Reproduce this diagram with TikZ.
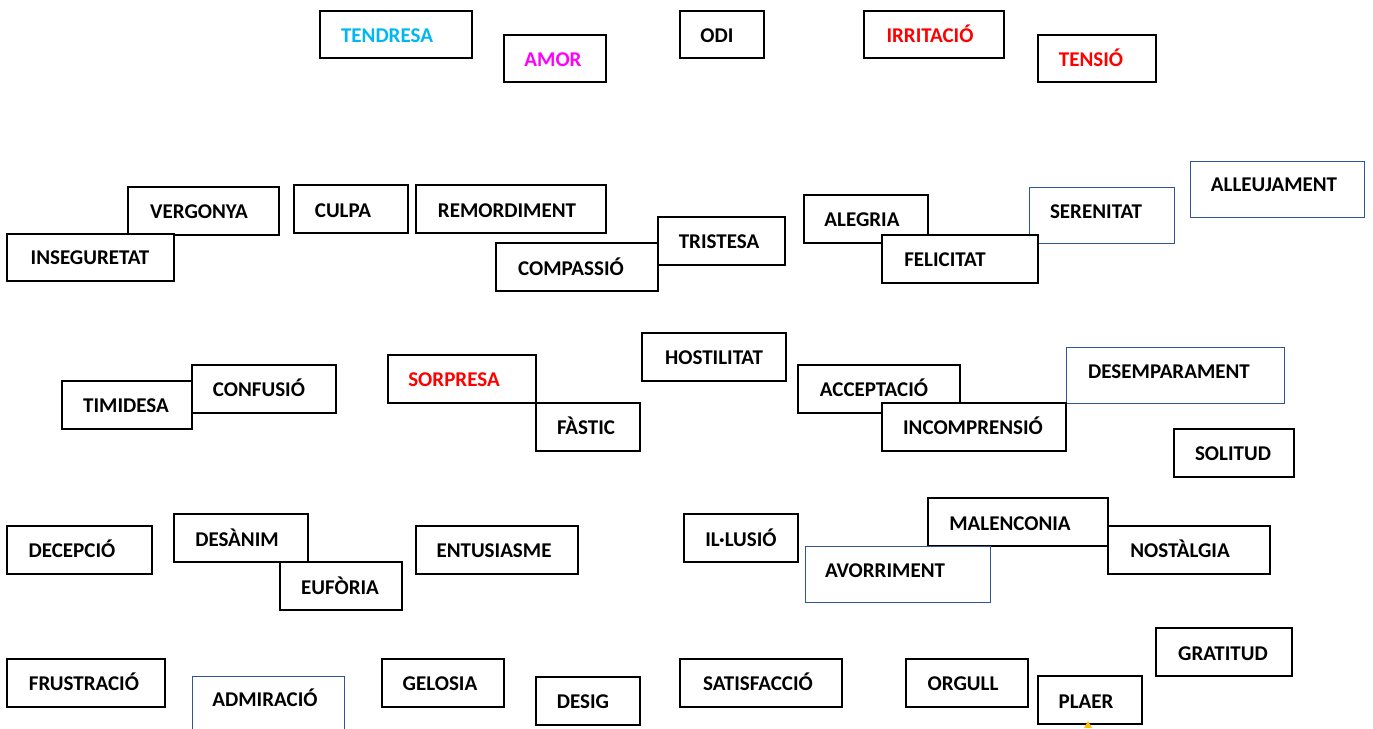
\documentclass[tikz,border=0pt]{standalone}
\usepackage{fontspec}
\setmainfont{Carlito}
\definecolor{cyanT}{HTML}{00B8F0}
\definecolor{magT}{HTML}{FF00FF}
\definecolor{redT}{HTML}{FF0000}
\definecolor{blueB}{HTML}{2F5597}
\definecolor{orangeM}{HTML}{FFC000}
\tikzset{
  bk/.style={draw=black, line width=1.5pt, fill=white, anchor=north west, inner sep=0pt, outer sep=0pt},
  bl/.style={draw=blueB, line width=0.8pt, fill=white, anchor=north west, inner sep=0pt, outer sep=0pt},
  lbl/.style={anchor=base, inner sep=0pt, font=\fontsize{21}{25}\selectfont\bfseries, text=black},
  sz/.style 2 args={minimum width=#1pt, minimum height=#2pt},
}
\begin{document}
\begin{tikzpicture}[x=1pt,y=-1pt]
\fill[white] (0,0) rectangle (1373,728);
\useasboundingbox (0,0) rectangle (1373,728);
% row 1
\node[bk, sz={152}{47}] (tendresa) at (320,11) {};
\node[lbl, text=cyanT] (tendresa-t) at (387,42) {TENDRESA};
\node[bk, sz={102}{47}] (amor) at (504,35) {};
\node[lbl, text=magT] (amor-t) at (553,66) {AMOR};
\node[bk, sz={84}{47}] (odi) at (680,11) {};
\node[lbl] (odi-t) at (717,42) {ODI};
\node[bk, sz={140}{47}] (irritacio) at (864,11) {};
\node[lbl, text=redT] (irritacio-t) at (930,42) {IRRITACIÓ};
\node[bk, sz={118}{47}] (tensio) at (1038,35) {};
\node[lbl, text=redT] (tensio-t) at (1091,66) {TENSIÓ};
% row 2
\node[bk, sz={151}{48}] (vergonya) at (128,187) {};
\node[lbl] (vergonya-t) at (199,218) {VERGONYA};
\node[bk, sz={167}{47}] (inseguretat) at (7,234) {};
\node[lbl] (inseguretat-t) at (90,264) {INSEGURETAT};
\node[bk, sz={114}{48}] (culpa) at (294,185) {};
\node[lbl] (culpa-t) at (343,217) {CULPA};
\node[bk, sz={190}{48}] (remordiment) at (416,185) {};
\node[lbl] (remordiment-t) at (507,217) {REMORDIMENT};
\node[bk, sz={162}{48}] (compassio) at (496,243) {};
\node[lbl] (compassio-t) at (571,275) {COMPASSIÓ};
\node[bk, sz={127}{48}] (tristesa) at (658,217) {};
\node[lbl] (tristesa-t) at (719,248) {TRISTESA};
\node[bk, sz={124}{48}] (alegria) at (804,195) {};
\node[lbl] (alegria-t) at (862,226) {ALEGRIA};
\node[bl, sz={145}{56}] (serenitat) at (1029,187) {};
\node[lbl] (serenitat-t) at (1096,218) {SERENITAT};
\node[bk, sz={156}{48}] (felicitat) at (882,235) {};
\node[lbl] (felicitat-t) at (945,266) {FELICITAT};
\node[bl, sz={174}{56}] (alleujament) at (1190,161) {};
\node[lbl] (alleujament-t) at (1274,191) {ALLEUJAMENT};
% row 3
\node[bk, sz={130}{48}] (timidesa) at (62,381) {};
\node[lbl] (timidesa-t) at (126,412) {TIMIDESA};
\node[bk, sz={144}{48}] (confusio) at (192,365) {};
\node[lbl] (confusio-t) at (259,396) {CONFUSIÓ};
\node[bk, sz={148}{48}] (sorpresa) at (388,355) {};
\node[lbl, text=redT] (sorpresa-t) at (454,386) {SORPRESA};
\node[bk, sz={104}{48}] (fastic) at (536,403) {};
\node[lbl] (fastic-t) at (586,434) {FÀSTIC};
\node[bk, sz={144}{48}] (hostilitat) at (642,333) {};
\node[lbl] (hostilitat-t) at (714,364) {HOSTILITAT};
\node[bk, sz={162}{48}] (acceptacio) at (798,365) {};
\node[lbl] (acceptacio-t) at (874,396) {ACCEPTACIÓ};
\node[bl, sz={218}{56}] (desemparament) at (1066,347) {};
\node[lbl] (desemparament-t) at (1169,378) {DESEMPARAMENT};
\node[bk, sz={184}{48}] (incomprensio) at (882,403) {};
\node[lbl] (incomprensio-t) at (973,434) {INCOMPRENSIÓ};
\node[bk, sz={120}{48}] (solitud) at (1174,429) {};
\node[lbl] (solitud-t) at (1233,460) {SOLITUD};
% row 4
\node[bk, sz={145}{48}] (decepcio) at (7,526) {};
\node[lbl] (decepcio-t) at (72,557) {DECEPCIÓ};
\node[bk, sz={134}{48}] (desanim) at (174,514) {};
\node[lbl] (desanim-t) at (237,546) {DESÀNIM};
\node[bk, sz={122}{48}] (euforia) at (280,562) {};
\node[lbl] (euforia-t) at (340,594) {EUFÒRIA};
\node[bk, sz={162}{48}] (entusiasme) at (416,526) {};
\node[lbl] (entusiasme-t) at (494,557) {ENTUSIASME};
\node[bk, sz={114}{48}] (illusio) at (684,514) {};
\node[lbl] (illusio-t) at (741,546) {IL·LUSIÓ};
\node[bk, sz={180}{48}] (malenconia) at (928,498) {};
\node[lbl] (malenconia-t) at (1010,530) {MALENCONIA};
\node[bk, sz={162}{48}] (nostalgia) at (1108,526) {};
\node[lbl] (nostalgia-t) at (1180,557) {NOSTÀLGIA};
\node[bl, sz={185}{56}] (avorriment) at (805,546) {};
\node[lbl] (avorriment-t) at (885,577) {AVORRIMENT};
% row 5
\node[bk, sz={158}{48}] (frustracio) at (7,659) {};
\node[lbl] (frustracio-t) at (84,690) {FRUSTRACIÓ};
\node[bl, sz={152}{60}] (admiracio) at (192,676) {};
\node[lbl] (admiracio-t) at (265,706) {ADMIRACIÓ};
\node[bk, sz={122}{48}] (gelosia) at (382,659) {};
\node[lbl] (gelosia-t) at (440,690) {GELOSIA};
\node[bk, sz={104}{48}] (desig) at (536,677) {};
\node[lbl] (desig-t) at (583,708) {DESIG};
\node[bk, sz={162}{48}] (satisfaccio) at (680,659) {};
\node[lbl] (satisfaccio-t) at (758,690) {SATISFACCIÓ};
\node[bk, sz={122}{48}] (orgull) at (906,659) {};
\node[lbl] (orgull-t) at (963,690) {ORGULL};
\node[bk, sz={104}{48}] (plaer) at (1038,676) {};
\node[lbl] (plaer-t) at (1086,708) {PLAER};
\node[bk, sz={136}{48}] (gratitud) at (1156,628) {};
\node[lbl] (gratitud-t) at (1223,660) {GRATITUD};
% small orange mark below PLAER
\fill[orangeM] (1084,728) -- (1088,721) -- (1092,728) -- cycle;
\end{tikzpicture}
\end{document}
